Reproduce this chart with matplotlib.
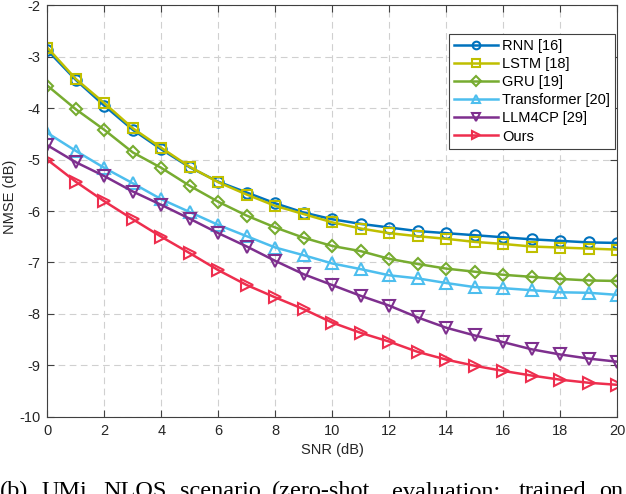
import numpy as np
import matplotlib.pyplot as plt

plt.rcParams['font.family'] = ['Liberation Sans', 'DejaVu Sans']
plt.rcParams['axes.unicode_minus'] = False

snr = list(range(0, 21))

rnn = [-2.87, -3.45, -3.95, -4.42, -4.80, -5.15, -5.43, -5.64, -5.85, -6.03, -6.16,
       -6.25, -6.32, -6.39, -6.43, -6.47, -6.51, -6.55, -6.58, -6.61, -6.62]
lstm = [-2.82, -3.43, -3.90, -4.39, -4.77, -5.14, -5.44, -5.68, -5.90, -6.06, -6.22,
        -6.34, -6.43, -6.49, -6.54, -6.60, -6.64, -6.69, -6.71, -6.73, -6.75]
gru = [-3.56, -4.02, -4.42, -4.86, -5.16, -5.51, -5.82, -6.09, -6.32, -6.52, -6.68,
       -6.78, -6.93, -7.03, -7.12, -7.18, -7.24, -7.28, -7.32, -7.35, -7.36]
transformer = [-4.48, -4.83, -5.16, -5.46, -5.77, -6.02, -6.27, -6.49, -6.71, -6.86, -7.02,
               -7.13, -7.25, -7.31, -7.40, -7.48, -7.50, -7.54, -7.58, -7.59, -7.63]
llm4cp = [-4.72, -5.05, -5.32, -5.62, -5.88, -6.15, -6.43, -6.69, -6.97, -7.23, -7.44,
          -7.65, -7.84, -8.07, -8.27, -8.42, -8.55, -8.69, -8.79, -8.87, -8.93]
ours = [-5.00, -5.43, -5.81, -6.16, -6.50, -6.82, -7.15, -7.44, -7.68, -7.91, -8.17,
        -8.37, -8.54, -8.74, -8.89, -9.01, -9.11, -9.20, -9.28, -9.34, -9.38]

labels = ['RNN [16]', 'LSTM [18]', 'GRU [19]', 'Transformer [20]', 'LLM4CP [29]', 'Ours']
colors = ['#0072BD', '#BFBF00', '#77AC30', '#4DBEEE', '#7E2F8E', '#EE2E4E']
markers = ['o', 's', 'D', '^', 'v', '>']
msizes = [7.5, 7.5, 6.5, 8.5, 8.5, 8.5]

caption_words = ['(b)', 'UMi', 'NLOS', 'scenario', '(zero-shot', 'evaluation;', 'trained', 'on']
caption_x = [0, 42, 103, 180, 272, 392, 519, 599]

fig = plt.figure(figsize=(6.26, 4.94), dpi=100)
ax = fig.add_axes([47.3 / 626, 1 - 416.7 / 494, 570 / 626, (416.7 - 5.4) / 494])

series = [rnn, lstm, gru, transformer, llm4cp, ours]
for y, lab, c, m, ms in zip(series, labels, colors, markers, msizes):
    ax.plot(snr, y, color=c, marker=m, markersize=ms, markerfacecolor='none',
            markeredgewidth=1.5, linewidth=1.8, label=lab)

ax.set_xlim(0, 20)
ax.set_ylim(-10, -2)
ax.set_xticks(range(0, 21, 2))
ax.set_yticks(range(-10, -1))
ax.grid(True, color='#d0d0d0', linestyle=(0, (6, 4)), linewidth=0.8)
ax.set_axisbelow(True)
for s in ax.spines.values():
    s.set_color('#404040')
    s.set_linewidth(0.8)
ax.tick_params(direction='in', length=5, width=0.8, color='#404040',
               labelsize=10.5, labelcolor='#262626', top=True, right=True, pad=5)

ax.set_xlabel('SNR (dB)', fontsize=10.5, color='#262626', labelpad=4)
fig.text(10 / 626, 1 - 197 / 494, 'NMSE (dB)', rotation=90, fontsize=10.5,
         color='#262626', ha='center', va='center')

leg = ax.legend(loc='upper right', bbox_to_anchor=(615 / 626, 1 - 34 / 494),
                bbox_transform=fig.transFigure, fontsize=10.5, numpoints=1,
                handlelength=3.0, handletextpad=0.3, labelspacing=0.28,
                borderpad=0.35, fancybox=False, framealpha=1, edgecolor='#404040',
                borderaxespad=0)
leg.get_frame().set_linewidth(0.8)
for h in leg.legend_handles:
    h.set_markersize(5.5)

for w, x in zip(caption_words, caption_x):
    fig.text(x / 626, 1 - 497 / 494, w, fontsize=17.5, family='Liberation Serif',
             ha='left', va='baseline', color='black')

fig.savefig('out.png', dpi=100)
